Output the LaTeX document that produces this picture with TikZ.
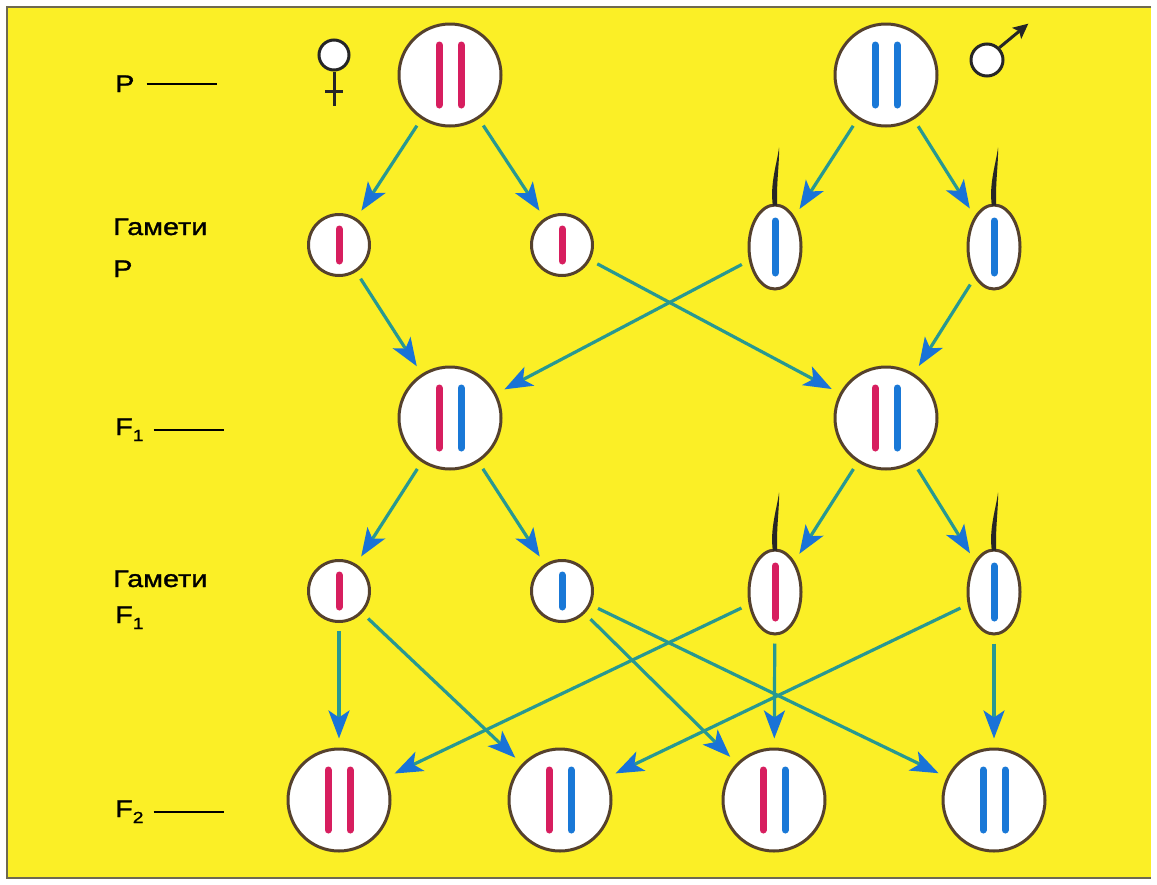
\documentclass[tikz,border=0pt]{standalone}
\usepackage{fontspec}
\setmainfont{Liberation Sans}
\newfontfamily\lblfont{Liberation Sans}[FakeStretch=1.2,FakeBold=1.2]
\usetikzlibrary{arrows.meta,shapes.geometric,calc}
\definecolor{bgyellow}{RGB}{251,239,38}
\definecolor{frameline}{RGB}{110,105,80}
\definecolor{cellborder}{RGB}{85,65,45}
\definecolor{chrred}{RGB}{215,30,95}
\definecolor{chrblue}{RGB}{25,120,215}
\definecolor{shaft}{RGB}{40,152,145}
\definecolor{headblue}{RGB}{25,115,215}
\newcommand\chrbar[4]{\draw[#4] ($(#1)+(#2,-#3)$) -- ($(#1)+(#2,#3)$);}
\newcommand\subidx[1]{\raisebox{-6pt}{\fontsize{16}{16}\selectfont #1}}
\begin{document}
\begin{tikzpicture}[x=1pt,y=-1pt,
  cell/.style={circle,draw=cellborder,line width=3pt,fill=white,minimum size=#1,inner sep=0pt},
  big/.style={cell=102pt},
  small/.style={cell=61pt},
  sperm/.style={ellipse,draw=cellborder,line width=3pt,fill=white,minimum width=52pt,minimum height=84pt,inner sep=0pt},
  arr/.style={draw=shaft,line width=3.2pt,-{Stealth[length=28pt,width=21pt,inset=7pt,color=headblue]},shorten <=8pt,shorten >=9pt},
  rchr/.style={draw=chrred,line width=7pt,line cap=round},
  bchr/.style={draw=chrblue,line width=7pt,line cap=round},
  lbl/.style={font=\lblfont\fontsize{24}{26}\selectfont,anchor=base west,inner sep=0pt},
  tailfill/.style={fill=black!85},
  symline/.style={draw=black!85,line width=3pt},
  symcirc/.style={circle,draw=black!85,line width=3pt,fill=white,minimum size=#1,inner sep=0pt},
  dashline/.style={draw=black,line width=2pt},
]
\useasboundingbox (0,0) rectangle (1157,884);
\fill[white] (0,0) rectangle (1157,884);
\fill[bgyellow] (7,7) rectangle (1151,878);
\draw[frameline,line width=1.5pt] (1151,7) -- (7,7) -- (7,878) -- (1151,878);

% labels
\node[lbl] (lP) at (115,92) {P};
\draw[dashline] ([xshift=12pt]lP.east) -- ++(70,0);
\node[lbl] (lG1) at (113,235) {Гамети};
\node[lbl] (lG1b) at (113,277) {P};
\node[lbl] (lF1) at (115,435) {F\subidx{1}};
\draw[dashline] ([xshift=10pt]lF1.east) -- ++(70,0);
\node[lbl] (lG2) at (113,587) {Гамети};
\node[lbl] (lG2b) at (115,623) {F\subidx{1}};
\node[lbl] (lF2) at (115,817) {F\subidx{2}};
\draw[dashline] ([xshift=10pt]lF2.east) -- ++(70,0);

% sex symbols
\node[symcirc=30pt] (fs) at (334,55) {};
\draw[symline] (fs.south) -- ++(0,34);
\draw[symline] ($(fs.south)+(-9,20)$) -- ++(18,0);
\node[symcirc=32pt] (ms) at (987,60) {};
\draw[symline,-{Stealth[length=15pt,width=14pt,inset=3pt]}] (ms.north east) -- ++(29,-24);

% P
\node[big] (pf) at (450,75) {};
\node[big] (pm) at (886,75) {};
% gametes P
\node[small] (g1) at (339,245) {};
\node[small] (g2) at (562,245) {};
\node[sperm] (s1) at (775,247) {};
\node[sperm] (s2) at (994,247) {};
% F1
\node[big] (f1l) at (450,418) {};
\node[big] (f1r) at (886,418) {};
% gametes F1
\node[small] (h1) at (339,591) {};
\node[small] (h2) at (562,591) {};
\node[sperm] (t1) at (775,592) {};
\node[sperm] (t2) at (994,592) {};
% F2
\node[big] (a1) at (339,800) {};
\node[big] (a2) at (560,800) {};
\node[big] (a3) at (774,800) {};
\node[big] (a4) at (994,800) {};

% tails (tapered, thin)
\foreach \s in {s1,s2,t1,t2}{
  \fill[tailfill] ($(\s.north)+(-2.2,2)$) .. controls +(-3,-22) and +(-2,16) .. ($(\s.north)+(4,-56)$)
     .. controls +(0.5,16) and +(-1,-22) .. ($(\s.north)+(2.2,2)$) -- cycle;
}

% chromosomes
\chrbar{pf}{-11}{30}{rchr}\chrbar{pf}{11}{30}{rchr}
\chrbar{pm}{-11}{30}{bchr}\chrbar{pm}{11}{30}{bchr}
\chrbar{g1}{0}{16}{rchr}\chrbar{g2}{0}{16}{rchr}
\chrbar{s1}{0}{26}{bchr}\chrbar{s2}{0}{26}{bchr}
\chrbar{f1l}{-11}{30}{rchr}\chrbar{f1l}{11}{30}{bchr}
\chrbar{f1r}{-11}{30}{rchr}\chrbar{f1r}{11}{30}{bchr}
\chrbar{h1}{0}{16}{rchr}\chrbar{h2}{0}{16}{bchr}
\chrbar{t1}{0}{26}{rchr}\chrbar{t2}{0}{26}{bchr}
\chrbar{a1}{-11}{30}{rchr}\chrbar{a1}{11}{30}{rchr}
\chrbar{a2}{-11}{30}{rchr}\chrbar{a2}{11}{30}{bchr}
\chrbar{a3}{-11}{30}{rchr}\chrbar{a3}{11}{30}{bchr}
\chrbar{a4}{-11}{30}{bchr}\chrbar{a4}{11}{30}{bchr}

% arrows
\draw[arr] (pf) -- (g1);
\draw[arr] (pf) -- (g2);
\draw[arr] (pm) -- (s1);
\draw[arr] (pm) -- (s2);
\draw[arr] (g1) -- (f1l);
\draw[arr] (s1) -- (f1l);
\draw[arr] (g2) -- (f1r);
\draw[arr] (s2) -- (f1r);
\draw[arr] (f1l) -- (h1);
\draw[arr] (f1l) -- (h2);
\draw[arr] (f1r) -- (t1);
\draw[arr] (f1r) -- (t2);
\draw[arr] (h1) -- (a1);
\draw[arr] (h1) -- (a2);
\draw[arr] (h2) -- (a3);
\draw[arr] (h2) -- (a4);
\draw[arr] (t1) -- (a1);
\draw[arr] (t1) -- (a3);
\draw[arr] (t2) -- (a2);
\draw[arr] (t2) -- (a4);
\end{tikzpicture}
\end{document}
